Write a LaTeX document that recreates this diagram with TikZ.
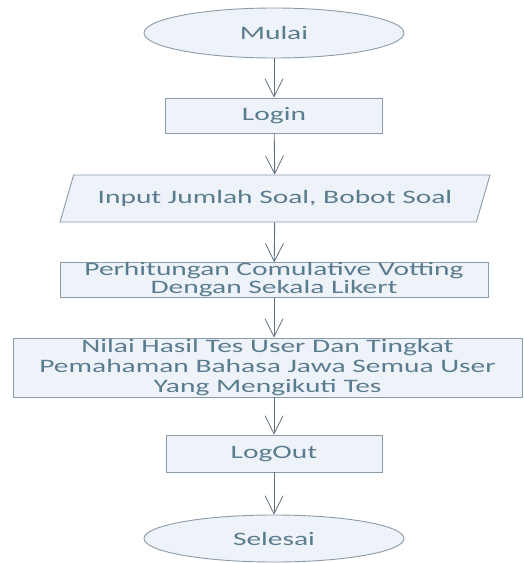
\documentclass[tikz,border=0pt]{standalone}
\usepackage{fontspec}
\setmainfont{Carlito}[FakeStretch=1.55]
\usepackage{xcolor}
\usetikzlibrary{shapes.geometric,arrows.meta}

\definecolor{boxline}{HTML}{8C9BA8}
\definecolor{boxfill}{HTML}{EEF3FA}
\definecolor{flowline}{HTML}{5E6E7C}
\definecolor{flowtext}{HTML}{5B7C8E}

\tikzset{
  terminal/.style={ellipse, draw=boxline, fill=boxfill, line width=0.9pt,
    text=flowtext, font=\fontsize{19}{20}\selectfont, inner sep=0pt},
  process/.style={rectangle, draw=boxline, fill=boxfill, line width=0.9pt,
    text=flowtext, font=\fontsize{19}{20}\selectfont, align=center, inner sep=0pt},
  io/.style={trapezium, trapezium left angle=50, trapezium right angle=130,
    trapezium stretches body, draw=boxline, fill=boxfill, line width=0.9pt,
    text=flowtext, font=\fontsize{19}{20}\selectfont, inner sep=0pt},
  flow/.style={draw=flowline, line width=0.9pt,
    -{Straight Barb[length=18pt,width=18pt,line width=0.8pt]}}
}

\begin{document}
\begin{tikzpicture}[x=1pt, y=-1pt]
  \useasboundingbox (0,0) rectangle (524,563);

  \node[terminal, minimum width=260pt, minimum height=50pt] (mulai) at (274, 33) {Mulai};
  \node[process, minimum width=217pt, minimum height=35pt] (login) at (274, 115.5) {Login};
  \node[io, minimum width=430pt, minimum height=47pt] (input) at (275, 198.5) {Input Jumlah Soal, Bobot Soal};
  \node[process, minimum width=428pt, minimum height=34pt] (hitung) at (274, 280)
    {Perhitungan Comulative Votting\\[-2pt]Dengan Sekala Likert};
  \node[process, minimum width=509pt, minimum height=59pt] (nilai) at (267.5, 367.5)
    {Nilai Hasil Tes User Dan Tingkat\\Pemahaman Bahasa Jawa Semua User\\Yang Mengikuti Tes};
  \node[process, minimum width=216pt, minimum height=37pt] (logout) at (274, 453.5) {LogOut};
  \node[terminal, minimum width=260pt, minimum height=47pt] (selesai) at (274, 538.5) {Selesai};

  \draw [flow] (mulai) to (login);
  \draw [flow] (login) to (input);
  \draw [flow] (input) to (hitung);
  \draw [flow] (hitung.south -| login) to (nilai.north -| login);
  \draw [flow] (nilai.south -| login) to (logout);
  \draw [flow] (logout) to (selesai);
\end{tikzpicture}
\end{document}
